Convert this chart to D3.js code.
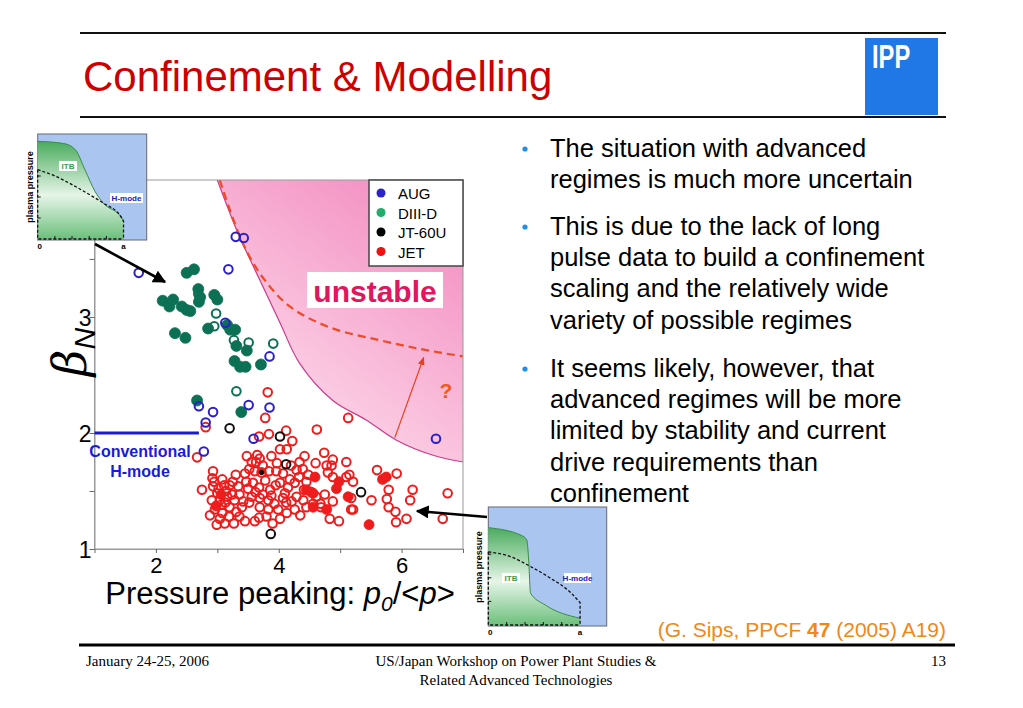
<!DOCTYPE html>
<html>
<head>
<meta charset="utf-8">
<script src="https://cdn.jsdelivr.net/npm/d3@7"></script>
<style>
body { margin: 0; background: #fff; }
svg { display: block; font-family: "Liberation Sans", Arial, sans-serif; }
</style>
</head>
<body>
<div id="slide"></div>
<script>
// ---- data ----
const xTicks = [1, 2, 3, 4, 5, 6, 7];
const xTickLabels = [2, 4, 6];
const yTicks = [1, 1.5, 2, 2.5, 3, 3.5, 4];
const yTickLabels = [1, 2, 3, 4];

const legendNames = ['AUG', 'DIII-D', 'JT-60U', 'JET'];
const legendColors = ['#2b22cc', '#22ac6c', '#000000', '#ee1111'];

// stability boundary (edge of pink "unstable" region) and dashed limit
const stabX = [3.0, 3.33, 3.69, 4.02, 4.34, 4.88, 5.43, 5.91, 6.50, 7.0];
const stabY = [4.18, 3.73, 3.32, 2.95, 2.60, 2.28, 2.11, 1.94, 1.81, 1.75];
const limX = [3.04, 3.41, 3.74, 4.18, 4.83, 5.64, 6.34, 7.0];
const limY = [4.18, 3.64, 3.34, 3.09, 2.91, 2.80, 2.72, 2.66];

const augOpen = [[3.30, 3.69], [3.43, 3.68], [3.18, 3.41], [1.72, 3.38], [3.13, 2.95], [3.85, 2.66],
  [2.70, 2.23], [2.93, 2.18], [3.51, 2.24], [3.85, 2.22], [2.81, 2.09], [3.59, 1.95], [2.78, 1.84], [6.56, 1.95]];

const d3dFilled = [[2.50, 3.38], [2.62, 3.41], [2.11, 3.14], [2.22, 3.09], [2.28, 3.15], [2.42, 3.09],
  [2.50, 3.06], [2.56, 3.05], [2.69, 3.24], [2.72, 3.17], [2.70, 3.13], [2.95, 3.19], [3.00, 3.15],
  [2.31, 2.86], [2.48, 2.82], [2.85, 2.90], [3.16, 2.93], [3.21, 2.89], [3.29, 2.89], [3.31, 2.75],
  [3.48, 2.71], [3.28, 2.62], [3.37, 2.57], [3.46, 2.57], [3.71, 2.59], [2.67, 2.28], [3.39, 2.18]];
const d3dOpen = [[2.69, 3.20], [2.98, 3.03], [2.95, 2.92], [3.27, 2.80], [3.51, 2.78], [3.91, 2.77], [3.31, 2.36]];

const jtOpen = [[3.20, 2.04], [4.02, 1.97], [4.12, 1.73], [5.34, 1.49], [3.87, 1.13]];
const jtDot = [[3.72, 1.66]];

const jetOpen = [[3.82, 2.35], [3.78, 2.13], [2.81, 2.05], [2.67, 1.79], [5.13, 2.13], [4.62, 2.03],
  [4.12, 2.02], [3.84, 1.99], [3.68, 1.97], [4.02, 1.86], [4.22, 1.93], [4.13, 1.86], [3.65, 1.81],
  [3.69, 1.78], [3.97, 1.74], [3.63, 1.75], [3.56, 1.75], [3.74, 1.72], [4.34, 1.75], [4.60, 1.74],
  [4.74, 1.83], [4.78, 1.72], [4.88, 1.77], [5.10, 1.75], [4.86, 1.72], [2.93, 1.67], [2.92, 1.61],
  [3.30, 1.64], [3.45, 1.65], [3.61, 1.67], [3.84, 1.67], [3.96, 1.67], [4.07, 1.65], [4.29, 1.68],
  [4.39, 1.69], [4.48, 1.64], [4.80, 1.66], [5.15, 1.64], [5.21, 1.58], [2.75, 1.51], [2.93, 1.54],
  [3.00, 1.48], [3.11, 1.55], [3.25, 1.58], [3.34, 1.54], [3.47, 1.58], [3.58, 1.57], [3.68, 1.53],
  [3.78, 1.59], [3.86, 1.51], [4.02, 1.57], [4.15, 1.53], [4.26, 1.57], [4.41, 1.51], [4.53, 1.49],
  [4.61, 1.45], [4.75, 1.47], [2.91, 1.42], [3.04, 1.42], [3.16, 1.45], [3.28, 1.42], [3.42, 1.41],
  [3.56, 1.45], [3.69, 1.44], [3.83, 1.42], [3.93, 1.39], [4.07, 1.44], [4.21, 1.41], [4.29, 1.45],
  [4.40, 1.42], [4.56, 1.39], [4.69, 1.36], [2.96, 1.34], [3.08, 1.31], [3.20, 1.36], [3.31, 1.32],
  [3.69, 1.36], [3.83, 1.34], [3.99, 1.34], [4.13, 1.31], [4.26, 1.34], [4.45, 1.36], [3.04, 1.26],
  [3.19, 1.28], [2.99, 1.21], [3.27, 1.22], [3.68, 1.27], [3.80, 1.28], [4.02, 1.26], [3.61, 1.24],
  [4.68, 1.39], [4.88, 1.41], [5.18, 1.44], [5.18, 1.34], [4.83, 1.26], [4.98, 1.24], [5.51, 1.42],
  [5.60, 1.68], [5.92, 1.65], [5.79, 1.51], [6.18, 1.51], [6.75, 1.48], [5.76, 1.43], [6.14, 1.42],
  [5.79, 1.36], [5.90, 1.32], [5.91, 1.23], [6.08, 1.26], [6.67, 1.26], [5.21, 1.34], [5.10, 1.62],
  [4.88, 1.62], [2.95, 1.58], [3.02, 1.52], [3.08, 1.60], [3.14, 1.50], [3.20, 1.55], [3.06, 1.38],
  [3.13, 1.40], [3.24, 1.47], [3.36, 1.47], [3.40, 1.36], [3.50, 1.52], [3.52, 1.40], [3.62, 1.49],
  [3.74, 1.47], [3.88, 1.46], [3.95, 1.55], [4.10, 1.48], [4.18, 1.60], [4.33, 1.62], [4.45, 1.58],
  [3.90, 1.22], [3.52, 1.69], [3.48, 1.80], [3.88, 1.80], [4.20, 1.72], [4.42, 1.80], [3.12, 1.22],
  [3.36, 1.28], [3.45, 1.24], [4.12, 1.40], [4.35, 1.29], [2.88, 1.29]];
const jetFilled = [[4.59, 1.62], [4.56, 1.48], [4.45, 1.51], [4.98, 1.58], [4.94, 1.52], [5.13, 1.45],
  [4.56, 1.36], [4.78, 1.34], [5.47, 1.21], [5.69, 1.60], [5.75, 1.62], [3.06, 1.47], [2.98, 1.37]];

// pressure profile sketches (r/a, normalised pressure)
const itb1X = [0, 0.30, 0.44, 0.55, 0.67, 0.76, 0.98, 1.0];
const itb1Y = [0.93, 0.91, 0.85, 0.66, 0.45, 0.345, 0.20, 0.17];
const hm1X = [0, 0.2, 0.44, 0.67, 0.76, 0.98, 1.0];
const hm1Y = [0.66, 0.60, 0.50, 0.39, 0.345, 0.20, 0.17];
const itb2X = [0, 0.36, 0.42, 0.44, 0.46, 0.62, 1.0];
const itb2Y = [0.825, 0.76, 0.72, 0.55, 0.27, 0.17, 0.057];
const hm2X = [0, 0.24, 0.45, 0.67, 0.89, 1.0];
const hm2Y = [0.62, 0.58, 0.50, 0.40, 0.28, 0.19];

const bullets = [
  ['The situation with advanced', 'regimes is much more uncertain'],
  ['This is due to the lack of long', 'pulse data to build a confinement', 'scaling and the relatively wide', 'variety of possible regimes'],
  ['It seems likely, however, that', 'advanced regimes will be more', 'limited by stability and current', 'drive requirements than', 'confinement']
];

const W = 1023, H = 708;
const svg = d3.select('#slide').append('svg').attr('width', W).attr('height', H);
const defs = svg.append('defs');

// ---- slide frame ----
svg.append('line').attr('x1', 80).attr('x2', 946).attr('y1', 33).attr('y2', 33)
  .attr('stroke', '#111').attr('stroke-width', 2);
svg.append('line').attr('x1', 80).attr('x2', 946).attr('y1', 117).attr('y2', 117)
  .attr('stroke', '#111').attr('stroke-width', 2);
svg.append('text').attr('x', 83).attr('y', 91).attr('font-size', 42).attr('fill', '#cc0000')
  .text('Confinement & Modelling');
svg.append('rect').attr('x', 865).attr('y', 38).attr('width', 73).attr('height', 77).attr('fill', '#1f78e6');
svg.append('text').attr('transform', 'translate(872,68) scale(0.95,1.32)')
  .attr('font-size', 25).attr('font-weight', 'bold').attr('fill', '#fff').text('IPP');

svg.append('line').attr('x1', 79).attr('x2', 955).attr('y1', 645).attr('y2', 645)
  .attr('stroke', '#000').attr('stroke-width', 3);
const foot = svg.append('g').attr('font-family', '"Liberation Serif", "Times New Roman", serif')
  .attr('font-size', 15).attr('fill', '#000');
foot.append('text').attr('x', 86).attr('y', 666).text('January 24-25, 2006');
foot.append('text').attr('x', 516).attr('y', 666).attr('text-anchor', 'middle').text('US/Japan Workshop on Power Plant Studies &');
foot.append('text').attr('x', 516).attr('y', 685).attr('text-anchor', 'middle').text('Related Advanced Technologies');
foot.append('text').attr('x', 946).attr('y', 666).attr('text-anchor', 'end').text('13');

// ---- bullets ----
const bl = svg.append('g').attr('font-size', 25.5).attr('fill', '#000');
const blockTop = [157, 235, 377];
bullets.forEach(function(lines, i) {
  bl.append('circle').attr('cx', 525).attr('cy', blockTop[i] - 8).attr('r', 2.6).attr('fill', '#1e90e8');
  lines.forEach(function(t, j) {
    bl.append('text').attr('x', 550).attr('y', blockTop[i] + j * 31.2).text(t);
  });
});

const cite = svg.append('text').attr('x', 946).attr('y', 637).attr('text-anchor', 'end')
  .attr('font-size', 21).attr('fill', '#f28716');
cite.append('tspan').text('(G. Sips, PPCF ');
cite.append('tspan').attr('font-weight', 'bold').text('47');
cite.append('tspan').text(' (2005) A19)');

// ---- main plot ----
const x = d3.scaleLinear().domain([1, 7]).range([94.5, 463]);
const y = d3.scaleLinear().domain([1, 4.18]).range([549, 180]);

const grad = defs.append('linearGradient').attr('id', 'pink').attr('gradientUnits', 'userSpaceOnUse')
  .attr('x1', 300).attr('y1', 410).attr('x2', 463).attr('y2', 185);
grad.append('stop').attr('offset', 0).attr('stop-color', '#fcd2e6');
grad.append('stop').attr('offset', 1).attr('stop-color', '#f286bd');

const stab = stabX.map((d, i) => [d, stabY[i]]);
const lim = limX.map((d, i) => [d, limY[i]]);
const curve = d3.line().x(d => x(d[0])).y(d => y(d[1])).curve(d3.curveCatmullRom);

svg.append('path').attr('d', curve(stab) + 'L' + x(7) + ',' + y(4.18) + 'Z')
  .attr('fill', 'url(#pink)');
svg.append('path').attr('d', curve(stab)).attr('fill', 'none').attr('stroke', '#cc3a8c').attr('stroke-width', 1.2);
svg.append('path').attr('d', curve(lim)).attr('fill', 'none').attr('stroke', '#f04a22')
  .attr('stroke-width', 2.2).attr('stroke-dasharray', '8,5');

// frame
svg.append('rect').attr('x', x(1)).attr('y', y(4.18)).attr('width', x(7) - x(1)).attr('height', y(1) - y(4.18))
  .attr('fill', 'none').attr('stroke', '#999').attr('stroke-width', 1);

const yAxis = svg.append('g').attr('transform', 'translate(' + x(1) + ',0)')
  .call(d3.axisLeft(y).tickValues(yTicks).tickSize(5).tickSizeOuter(0)
    .tickFormat(d => yTickLabels.indexOf(d) >= 0 ? d : ''));
const xAxis = svg.append('g').attr('transform', 'translate(0,' + y(1) + ')')
  .call(d3.axisBottom(x).tickValues(xTicks).tickSize(4).tickSizeOuter(0)
    .tickFormat(d => xTickLabels.indexOf(d) >= 0 ? d : ''));
[xAxis, yAxis].forEach(function(a) {
  a.select('.domain').attr('stroke', '#999');
  a.selectAll('.tick line').attr('stroke', '#666');
  a.selectAll('.tick text').attr('fill', '#000').attr('font-family', '"Liberation Sans", Arial, sans-serif');
});
yAxis.selectAll('.tick text').attr('font-size', 23).attr('x', -3).attr('dy', '0.36em');
xAxis.selectAll('.tick text').attr('font-size', 22).attr('y', 8).attr('dy', '0.71em');

// axis titles
const xt = svg.append('text').attr('x', 280).attr('y', 604).attr('text-anchor', 'middle')
  .attr('font-size', 31).attr('fill', '#000');
xt.append('tspan').text('Pressure peaking: ');
xt.append('tspan').attr('font-style', 'italic').text('p');
xt.append('tspan').attr('font-style', 'italic').attr('font-size', 21).attr('dy', 7).text('0');
xt.append('tspan').attr('dy', -7).text('/<');
xt.append('tspan').attr('font-style', 'italic').text('p');
xt.append('tspan').text('>');

const yt = svg.append('text').attr('transform', 'translate(86,352) rotate(-90)').attr('text-anchor', 'middle')
  .attr('font-style', 'italic').attr('fill', '#000');
yt.append('tspan').attr('font-size', 46).attr('font-family', '"DejaVu Serif", serif').text('β');
yt.append('tspan').attr('font-size', 30).attr('dy', 9).text('N');

// conventional H-mode marker
svg.append('line').attr('x1', x(1)).attr('x2', x(2.7)).attr('y1', y(2)).attr('y2', y(2))
  .attr('stroke', '#1a1ad8').attr('stroke-width', 3);
svg.append('text').attr('x', 140).attr('y', 457).attr('text-anchor', 'middle').attr('font-weight', 'bold')
  .attr('font-size', 16).attr('fill', '#1a1ad8').text('Conventional');
svg.append('text').attr('x', 140).attr('y', 477).attr('text-anchor', 'middle').attr('font-weight', 'bold')
  .attr('font-size', 16).attr('fill', '#1a1ad8').text('H-mode');

// arrow to the dashed limit and "?"
defs.append('marker').attr('id', 'redHead').attr('viewBox', '0 0 10 10').attr('refX', 9).attr('refY', 5)
  .attr('markerWidth', 7).attr('markerHeight', 7).attr('orient', 'auto')
  .append('path').attr('d', 'M0,1L10,5L0,9Z').attr('fill', '#e8401c');
svg.append('line').attr('x1', x(5.89)).attr('y1', y(1.96)).attr('x2', x(6.36)).attr('y2', y(2.65))
  .attr('stroke', '#e8401c').attr('stroke-width', 1.2).attr('marker-end', 'url(#redHead)');
svg.append('text').attr('x', 446).attr('y', 398).attr('text-anchor', 'middle').attr('font-weight', 'bold')
  .attr('font-size', 21).attr('fill', '#f05a1a').text('?');

// data points
function dots(data, color, r, filled) {
  svg.append('g').selectAll('circle').data(data).join('circle')
    .attr('cx', d => x(d[0])).attr('cy', d => y(d[1])).attr('r', r)
    .attr('fill', filled ? color : 'none')
    .attr('stroke', color).attr('stroke-width', filled ? 0.8 : 2);
}
dots(jetOpen, '#ee1c1c', 4.3, false);
dots(jetFilled, '#ee1c1c', 5, true);
dots(jtDot, '#ee1c1c', 4.3, false);
svg.append('g').selectAll('circle').data(jtDot).join('circle')
  .attr('cx', d => x(d[0])).attr('cy', d => y(d[1])).attr('r', 2.6).attr('fill', '#111');
dots(jtOpen, '#111', 4.3, false);
dots(d3dOpen, '#0c7055', 4.3, false);
dots(d3dFilled, '#0c7055', 5.5, true);
dots(augOpen, '#2c1fc9', 4.3, false);

// "unstable" label
svg.append('rect').attr('x', 307).attr('y', 272).attr('width', 136).attr('height', 36).attr('fill', '#fff');
svg.append('text').attr('x', 375).attr('y', 302).attr('text-anchor', 'middle').attr('font-weight', 'bold')
  .attr('font-size', 30).attr('fill', '#e0165e').text('unstable');

// legend
const lg = svg.append('g');
lg.append('rect').attr('x', 369).attr('y', 180).attr('width', 94).attr('height', 86)
  .attr('fill', '#fff').attr('stroke', '#444').attr('stroke-width', 1.5);
legendNames.forEach(function(n, i) {
  lg.append('circle').attr('cx', 381).attr('cy', 193 + i * 19.5).attr('r', 4.5).attr('fill', legendColors[i]);
  lg.append('text').attr('x', 398).attr('y', 199 + i * 19.5).attr('font-size', 15).attr('fill', '#000').text(n);
});

// ---- pressure profile insets ----
const gg = defs.append('linearGradient').attr('id', 'green').attr('x1', 0).attr('y1', 0).attr('x2', 0).attr('y2', 1);
gg.append('stop').attr('offset', 0).attr('stop-color', '#4aab5e');
gg.append('stop').attr('offset', 0.55).attr('stop-color', '#e6f5e8');
gg.append('stop').attr('offset', 1).attr('stop-color', '#6cc07c');

function inset(box, itbX, itbY, hmX, hmY, itbLab, hmLab, ylab) {
  const g = svg.append('g');
  const sx = d3.scaleLinear().domain([0, box.xmax]).range([box.x0, box.x1]);
  const sy = d3.scaleLinear().domain([0, 1]).range([box.y1, box.y0]);
  const ln = d3.line().x(d => sx(d[0])).y(d => sy(d[1])).curve(d3.curveMonotoneX);
  const itb = itbX.map((d, i) => [d, itbY[i]]);
  const hm = hmX.map((d, i) => [d, hmY[i]]);

  g.append('rect').attr('x', box.x0).attr('y', box.y0).attr('width', box.x1 - box.x0).attr('height', box.y1 - box.y0 + 1)
    .attr('fill', '#aac6f0').attr('stroke', '#667').attr('stroke-width', 1);
  g.append('path').attr('d', ln(itb) + 'L' + sx(1) + ',' + sy(0) + 'L' + sx(0) + ',' + sy(0) + 'Z')
    .attr('fill', 'url(#green)');
  g.append('path').attr('d', ln(itb)).attr('fill', 'none').attr('stroke', '#3a8a46').attr('stroke-width', 1);
  g.append('path').attr('d', ln(hm) + 'L' + sx(1) + ',' + sy(0)).attr('fill', 'none')
    .attr('stroke', '#111').attr('stroke-width', 1.3).attr('stroke-dasharray', '3,2');
  g.append('path').attr('d', 'M' + sx(0) + ',' + sy(hmY[0]) + 'L' + sx(0) + ',' + sy(0) + 'L' + sx(1) + ',' + sy(0))
    .attr('fill', 'none').attr('stroke', '#111').attr('stroke-width', 1.3).attr('stroke-dasharray', '3,2');
  g.selectAll('.tx').data(d3.range(0.2, 1, 0.2)).join('line')
    .attr('x1', d => sx(d)).attr('x2', d => sx(d)).attr('y1', sy(0)).attr('y2', sy(0) - 3)
    .attr('stroke', '#111').attr('stroke-width', 1);
  g.selectAll('.ty').data(d3.range(0.2, hmY[0], 0.2)).join('line')
    .attr('x1', sx(0)).attr('x2', sx(0) + 3).attr('y1', d => sy(d)).attr('y2', d => sy(d))
    .attr('stroke', '#111').attr('stroke-width', 1);

  [[itbLab, 'ITB', '#3c9a4c'], [hmLab, 'H-mode', '#2020c0']].forEach(function(l) {
    const p = l[0];
    g.append('rect').attr('x', p[0]).attr('y', p[1]).attr('width', p[2]).attr('height', 10).attr('fill', '#fff');
    g.append('text').attr('x', p[0] + p[2] / 2).attr('y', p[1] + 8).attr('text-anchor', 'middle')
      .attr('font-size', 8).attr('font-weight', 'bold').attr('fill', l[2]).text(l[1]);
  });
  g.append('text').attr('transform', 'translate(' + ylab[0] + ',' + ylab[1] + ') rotate(-90)')
    .attr('text-anchor', 'middle').attr('font-size', 9).attr('font-weight', 'bold').text('plasma pressure');
  g.append('text').attr('x', sx(0) + 2).attr('y', box.y1 + 10).attr('text-anchor', 'middle')
    .attr('font-size', 8).attr('font-weight', 'bold').text('0');
  g.append('text').attr('x', sx(1)).attr('y', box.y1 + 10).attr('text-anchor', 'middle')
    .attr('font-size', 8).attr('font-weight', 'bold').text('a');
}

inset({x0: 37.7, x1: 146.7, y0: 134, y1: 239, xmax: 1.27}, itb1X, itb1Y, hm1X, hm1Y,
  [59, 161, 18], [110, 193, 33], [33, 187]);
inset({x0: 488.3, x1: 606.7, y0: 507, y1: 625, xmax: 1.29}, itb2X, itb2Y, hm2X, hm2Y,
  [502, 573, 18], [564, 573, 27], [482, 567]);

// black pointer arrows from the insets
defs.append('marker').attr('id', 'blackHead').attr('viewBox', '0 0 10 10').attr('refX', 9).attr('refY', 5)
  .attr('markerWidth', 5).attr('markerHeight', 5).attr('orient', 'auto')
  .append('path').attr('d', 'M0,0L10,5L0,10Z').attr('fill', '#000');
svg.append('line').attr('x1', 95).attr('y1', 244).attr('x2', 165).attr('y2', 282)
  .attr('stroke', '#000').attr('stroke-width', 2.6).attr('marker-end', 'url(#blackHead)');
svg.append('line').attr('x1', 487).attr('y1', 517).attr('x2', 417).attr('y2', 511)
  .attr('stroke', '#000').attr('stroke-width', 2.6).attr('marker-end', 'url(#blackHead)');
</script>
</body>
</html>
